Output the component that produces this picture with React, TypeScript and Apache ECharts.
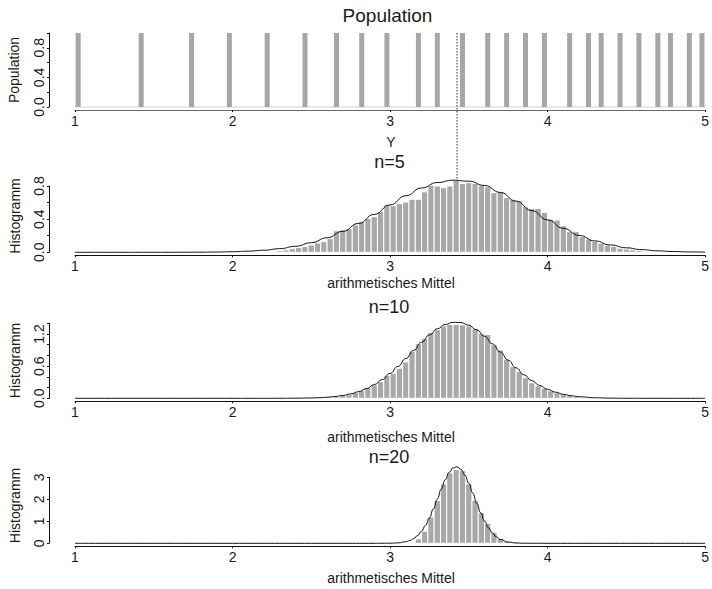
import React, { useEffect, useRef } from "react";
import * as echarts from "echarts";

const FONT = '"Liberation Sans", Arial, Helvetica, sans-serif';
const TEXT = "#1a1a1a";
const BAR = "#a8a8aa";

// ---------- Population (top panel) ----------
const populationY = [
  1.02, 1.42, 1.74, 1.98, 2.22, 2.46, 2.66, 2.82, 2.98, 3.18, 3.3, 3.46, 3.62,
  3.74, 3.86, 3.98, 4.14, 4.26, 4.34, 4.46, 4.58, 4.7, 4.78, 4.9, 4.98,
];
const populationFreq = [
  1, 1, 1, 1, 1, 1, 1, 1, 1, 1, 1, 1, 1, 1, 1, 1, 1, 1, 1, 1, 1, 1, 1, 1, 1,
];
const populationMean = 3.425;
const meanDensityN5 = 0.87;
const populationBaseX = [1, 5];
const populationBaseY = [0, 0];

// ---------- tick labels ----------
const xTickValues = [1, 2, 3, 4, 5];
const xTickLabels = ["1", "2", "3", "4", "5"];
const popYLabelValues = [0, 0.4, 0.8];
const popYLabels = ["0.0", "0.4", "0.8"];
const n5YLabelValues = [0, 0.4, 0.8];
const n5YLabels = ["0.0", "0.4", "0.8"];
const n10YLabelValues = [0, 0.6, 1.2];
const n10YLabels = ["0.0", "0.6", "1.2"];
const n20YLabelValues = [0, 1, 2, 3];
const n20YLabels = ["0", "1", "2", "3"];

// ---------- histograms (bin left edges, densities) ----------
const BIN_WIDTH = 0.04;
const n5BinStart = [
  2.2, 2.24, 2.28, 2.32, 2.36, 2.4, 2.44, 2.48, 2.52, 2.56, 2.6, 2.64, 2.68,
  2.72, 2.76, 2.8, 2.84, 2.88, 2.92, 2.96, 3.0, 3.04, 3.08, 3.12, 3.16, 3.2,
  3.24, 3.28, 3.32, 3.36, 3.4, 3.44, 3.48, 3.52, 3.56, 3.6, 3.64, 3.68, 3.72,
  3.76, 3.8, 3.84, 3.88, 3.92, 3.96, 4.0, 4.04, 4.08, 4.12, 4.16, 4.2, 4.24,
  4.28, 4.32, 4.36, 4.4, 4.44, 4.48, 4.52, 4.56, 4.6, 4.64,
];
const n5Density = [
  0.008, 0.012, 0.02, 0.03, 0.045, 0.056, 0.07, 0.088, 0.112, 0.128, 0.165,
  0.26, 0.27, 0.285, 0.33, 0.37, 0.41, 0.43, 0.49, 0.574, 0.562, 0.586, 0.606,
  0.64, 0.64, 0.73, 0.81, 0.8, 0.78, 0.8, 0.87, 0.83, 0.84, 0.83, 0.81, 0.79,
  0.72, 0.73, 0.66, 0.64, 0.62, 0.55, 0.53, 0.53, 0.48, 0.4, 0.39, 0.32, 0.25,
  0.25, 0.19, 0.16, 0.13, 0.11, 0.085, 0.07, 0.05, 0.04, 0.03, 0.02, 0.012,
  0.006,
];
const n10BinStart = [
  2.48, 2.52, 2.56, 2.6, 2.64, 2.68, 2.72, 2.76, 2.8, 2.84, 2.88, 2.92, 2.96,
  3.0, 3.04, 3.08, 3.12, 3.16, 3.2, 3.24, 3.28, 3.32, 3.36, 3.4, 3.44, 3.48,
  3.52, 3.56, 3.6, 3.64, 3.68, 3.72, 3.76, 3.8, 3.84, 3.88, 3.92, 3.96, 4.0,
  4.04, 4.08, 4.12, 4.16, 4.2, 4.24, 4.28,
];
const n10Density = [
  0.005, 0.01, 0.015, 0.025, 0.03, 0.05, 0.07, 0.11, 0.15, 0.2, 0.25, 0.31,
  0.43, 0.46, 0.56, 0.68, 0.88, 1.02, 1.12, 1.23, 1.28, 1.35, 1.38, 1.38, 1.37,
  1.35, 1.3, 1.21, 1.19, 1.0, 0.9, 0.73, 0.59, 0.5, 0.385, 0.29, 0.235, 0.19,
  0.14, 0.105, 0.075, 0.05, 0.035, 0.022, 0.014, 0.008,
];
const n20BinStart = [
  3.12, 3.16, 3.2, 3.24, 3.28, 3.32, 3.36, 3.4, 3.44, 3.48, 3.52, 3.56, 3.6,
  3.64, 3.68, 3.72, 3.76,
];
const n20Density = [
  0.02, 0.2, 0.55, 1.2, 1.95, 2.7, 3.2, 3.35, 3.3, 2.7, 1.95, 1.4, 0.9, 0.5,
  0.22, 0.08, 0.02,
];

// ---------- density curves ----------
const curveN5X = [
  1.0, 1.1, 1.2, 1.3, 1.4, 1.5, 1.6, 1.7, 1.8, 1.9, 2.0, 2.1, 2.2, 2.3, 2.4,
  2.5, 2.6, 2.7, 2.8, 2.9, 3.0, 3.1, 3.2, 3.3, 3.4, 3.5, 3.6, 3.7, 3.8, 3.9,
  4.0, 4.1, 4.2, 4.3, 4.4, 4.5, 4.6, 4.7, 4.8, 4.9, 5.0,
];
const curveN5Y = [
  0, 0, 0, 0, 0.0001, 0.0001, 0.0003, 0.0008, 0.0017, 0.0035, 0.0071, 0.0137,
  0.0251, 0.0438, 0.0729, 0.1158, 0.1753, 0.2531, 0.3484, 0.4572, 0.572,
  0.6823, 0.7761, 0.8417, 0.8702, 0.8579, 0.8063, 0.7225, 0.6174, 0.5029,
  0.3906, 0.2893, 0.2042, 0.1375, 0.0882, 0.054, 0.0315, 0.0175, 0.0093,
  0.0047, 0.0023,
];
const curveN10X = [
  1.0, 1.5, 2.0, 2.1, 2.2, 2.3, 2.4, 2.5, 2.55, 2.6, 2.65, 2.7, 2.75, 2.8, 2.85,
  2.9, 2.95, 3.0, 3.05, 3.1, 3.15, 3.2, 3.25, 3.3, 3.35, 3.4, 3.45, 3.5, 3.55,
  3.6, 3.65, 3.7, 3.75, 3.8, 3.85, 3.9, 3.95, 4.0, 4.05, 4.1, 4.15, 4.2, 4.3,
  4.4, 4.5, 4.6, 4.8, 5.0,
];
const curveN10Y = [
  0, 0, 0, 0, 0.0001, 0.0005, 0.0019, 0.0066, 0.0116, 0.0199, 0.0329, 0.0528,
  0.0821, 0.1237, 0.1805, 0.2551, 0.3495, 0.4637, 0.5958, 0.7419, 0.8949,
  1.0456, 1.1835, 1.2977, 1.3785, 1.4184, 1.4139, 1.3653, 1.2772, 1.1575,
  1.016, 0.8641, 0.7119, 0.5682, 0.4393, 0.3291, 0.2388, 0.1678, 0.1142,
  0.0753, 0.0481, 0.0298, 0.0104, 0.0032, 0.0009, 0.0002, 0, 0,
];
const curveN20X = [
  1.0, 2.0, 2.5, 2.9, 2.95, 3.0, 3.05, 3.1, 3.125, 3.15, 3.175, 3.2, 3.225,
  3.25, 3.275, 3.3, 3.325, 3.35, 3.375, 3.4, 3.425, 3.45, 3.475, 3.5, 3.525,
  3.55, 3.575, 3.6, 3.625, 3.65, 3.675, 3.7, 3.75, 3.8, 3.85, 3.9, 4.0, 4.5,
  5.0,
];
const curveN20Y = [
  0, 0, 0, 0.0001, 0.0008, 0.0042, 0.0188, 0.0701, 0.126, 0.2158, 0.3526,
  0.5495, 0.8164, 1.1561, 1.5608, 2.0094, 2.4666, 2.8867, 3.2214, 3.4275,
  3.4767, 3.3627, 3.1007, 2.7262, 2.2853, 1.8267, 1.392, 1.0113, 0.7005,
  0.4628, 0.2913, 0.175, 0.0546, 0.0141, 0.003, 0.0005, 0, 0, 0,
];

const zip = (a: number[], b: number[]) => a.map((v, i) => [v, b[i]]);

const labelFmt = (values: number[], labels: string[]) => (v: number) => {
  const i = values.findIndex((t) => Math.abs(t - v) < 1e-6);
  return i >= 0 ? labels[i] : "";
};

const grids = [
  { left: 75, right: 5, top: 33, height: 74 },
  { left: 75, right: 5, top: 186, height: 66.3 },
  { left: 75, right: 5, top: 323.3, height: 75 },
  { left: 75, right: 5, top: 477.3, height: 66 },
];

const axisColors = ["#6a6a6a", "#111", "#111", "#111"];

const makeXAxis = (i: number) => ({
  type: "value",
  gridIndex: i,
  min: 1,
  max: 5,
  interval: 1,
  offset: 3,
  axisLine: { show: true, onZero: false, lineStyle: { color: axisColors[i], width: 1 } },
  axisTick: { show: true, length: 2, lineStyle: { color: "#111", width: 1 } },
  axisLabel: {
    margin: 4,
    fontSize: 14,
    lineHeight: 14,
    fontFamily: FONT,
    color: TEXT,
    showMinLabel: true,
    showMaxLabel: true,
    formatter: labelFmt(xTickValues, xTickLabels),
  },
  splitLine: { show: false },
});

const makeYAxis = (i: number, max: number, interval: number, fmt: (v: number) => string) => ({
  type: "value",
  gridIndex: i,
  min: 0,
  max,
  interval,
  offset: 26,
  axisLine: { show: true, onZero: false, lineStyle: { color: "#111", width: 1 } },
  axisTick: { show: true, length: 2, lineStyle: { color: "#111", width: 1 } },
  axisLabel: {
    rotate: 90,
    margin: 3,
    fontSize: 14,
    lineHeight: 14,
    fontFamily: FONT,
    color: TEXT,
    showMinLabel: true,
    showMaxLabel: true,
    formatter: fmt,
  },
  splitLine: { show: false },
});

const histSeries = (i: number, starts: number[], dens: number[]) => ({
  type: "custom",
  xAxisIndex: i,
  yAxisIndex: i,
  clip: false,
  data: zip(starts, dens),
  renderItem: (params: any, api: any) => {
    const x0 = api.value(0);
    const h = api.value(1);
    const p0 = api.coord([x0, 0]);
    const p1 = api.coord([x0 + BIN_WIDTH, h]);
    return {
      type: "rect",
      shape: { x: p0[0], y: p1[1], width: p1[0] - p0[0], height: p0[1] - p1[1] },
      style: { fill: BAR, stroke: "#ffffff", lineWidth: 1 },
    };
  },
});

const curveSeries = (i: number, xs: number[], ys: number[]) => ({
  type: "line",
  xAxisIndex: i,
  yAxisIndex: i,
  clip: false,
  smooth: true,
  smoothMonotone: "x",
  symbol: "none",
  data: zip(xs, ys),
  lineStyle: { color: "#111", width: 1 },
  z: 5,
});

const txt = (text: string, x: number, y: number, size: number, rotation = 0) => ({
  type: "text",
  x,
  y,
  rotation,
  silent: true,
  style: {
    text,
    fill: TEXT,
    font: `${size}px ${FONT}`,
    fontSize: size,
    fontFamily: FONT,
    lineHeight: size,
    textAlign: "center",
    textVerticalAlign: "middle",
    align: "center",
    verticalAlign: "middle",
  },
});

const textElements = [
  txt("Population", 387.5, 15, 19),
  txt("Y", 391, 142, 14),
  txt("n=5", 389.5, 162, 18),
  txt("arithmetisches Mittel", 391, 282.5, 14),
  txt("n=10", 389, 306.7, 18),
  txt("arithmetisches Mittel", 391, 436.5, 14),
  txt("n=20", 389, 456.7, 18),
  txt("arithmetisches Mittel", 391, 577.5, 14),
  txt("Population", 13.6, 70, 14, Math.PI / 2),
  txt("Histogramm", 14.6, 216, 14, Math.PI / 2),
  txt("Histogramm", 14.6, 360.5, 14, Math.PI / 2),
  txt("Histogramm", 14.6, 505.5, 14, Math.PI / 2),
];

const option: any = {
  animation: false,
  backgroundColor: "#ffffff",
  textStyle: { fontFamily: FONT },
  grid: grids,
  xAxis: [0, 1, 2, 3].map(makeXAxis),
  yAxis: [
    makeYAxis(0, 1, 0.2, labelFmt(popYLabelValues, popYLabels)),
    makeYAxis(1, 0.8, 0.2, labelFmt(n5YLabelValues, n5YLabels)),
    makeYAxis(2, 1.4, 0.2, labelFmt(n10YLabelValues, n10YLabels)),
    makeYAxis(3, 3, 1, labelFmt(n20YLabelValues, n20YLabels)),
  ],
  series: [
    {
      type: "line",
      xAxisIndex: 0,
      yAxisIndex: 0,
      clip: false,
      symbol: "none",
      data: zip(populationBaseX, populationBaseY),
      lineStyle: { color: "#d4d4d4", width: 1.2 },
      z: 1,
    },
    {
      type: "custom",
      xAxisIndex: 0,
      yAxisIndex: 0,
      clip: false,
      data: zip(populationY, populationFreq),
      renderItem: (params: any, api: any) => {
        const p0 = api.coord([api.value(0), 0]);
        const p1 = api.coord([api.value(0), api.value(1)]);
        return {
          type: "rect",
          shape: { x: p0[0] - 2.5, y: p1[1], width: 5, height: p0[1] - p1[1] },
          style: { fill: "#a6a6a8" },
        };
      },
      z: 2,
    },
    histSeries(1, n5BinStart, n5Density),
    curveSeries(1, curveN5X, curveN5Y),
    histSeries(2, n10BinStart, n10Density),
    curveSeries(2, curveN10X, curveN10Y),
    histSeries(3, n20BinStart, n20Density),
    curveSeries(3, curveN20X, curveN20Y),
  ],
  graphic: textElements,
};

export default function App() {
  const ref = useRef<HTMLDivElement>(null);
  useEffect(() => {
    if (!ref.current) return;
    const chart = echarts.init(ref.current, null, { renderer: "svg" });
    chart.setOption(option);
    const top = chart.convertToPixel({ gridIndex: 0 } as any, [populationMean, 1]) as number[];
    const bot = chart.convertToPixel({ gridIndex: 1 } as any, [populationMean, meanDensityN5]) as number[];
    chart.setOption({
      graphic: [
        ...textElements,
        {
          type: "line",
          silent: true,
          z: 10,
          shape: { x1: top[0], y1: top[1], x2: bot[0], y2: bot[1] },
          style: { stroke: "#333", lineWidth: 1, lineDash: [1.5, 1.5] },
        },
      ],
    });
    return () => chart.dispose();
  }, []);
  return (
    <div
      ref={ref}
      style={{ position: "fixed", left: 0, top: 0, width: 712, height: 589, background: "#fff" }}
    />
  );
}
